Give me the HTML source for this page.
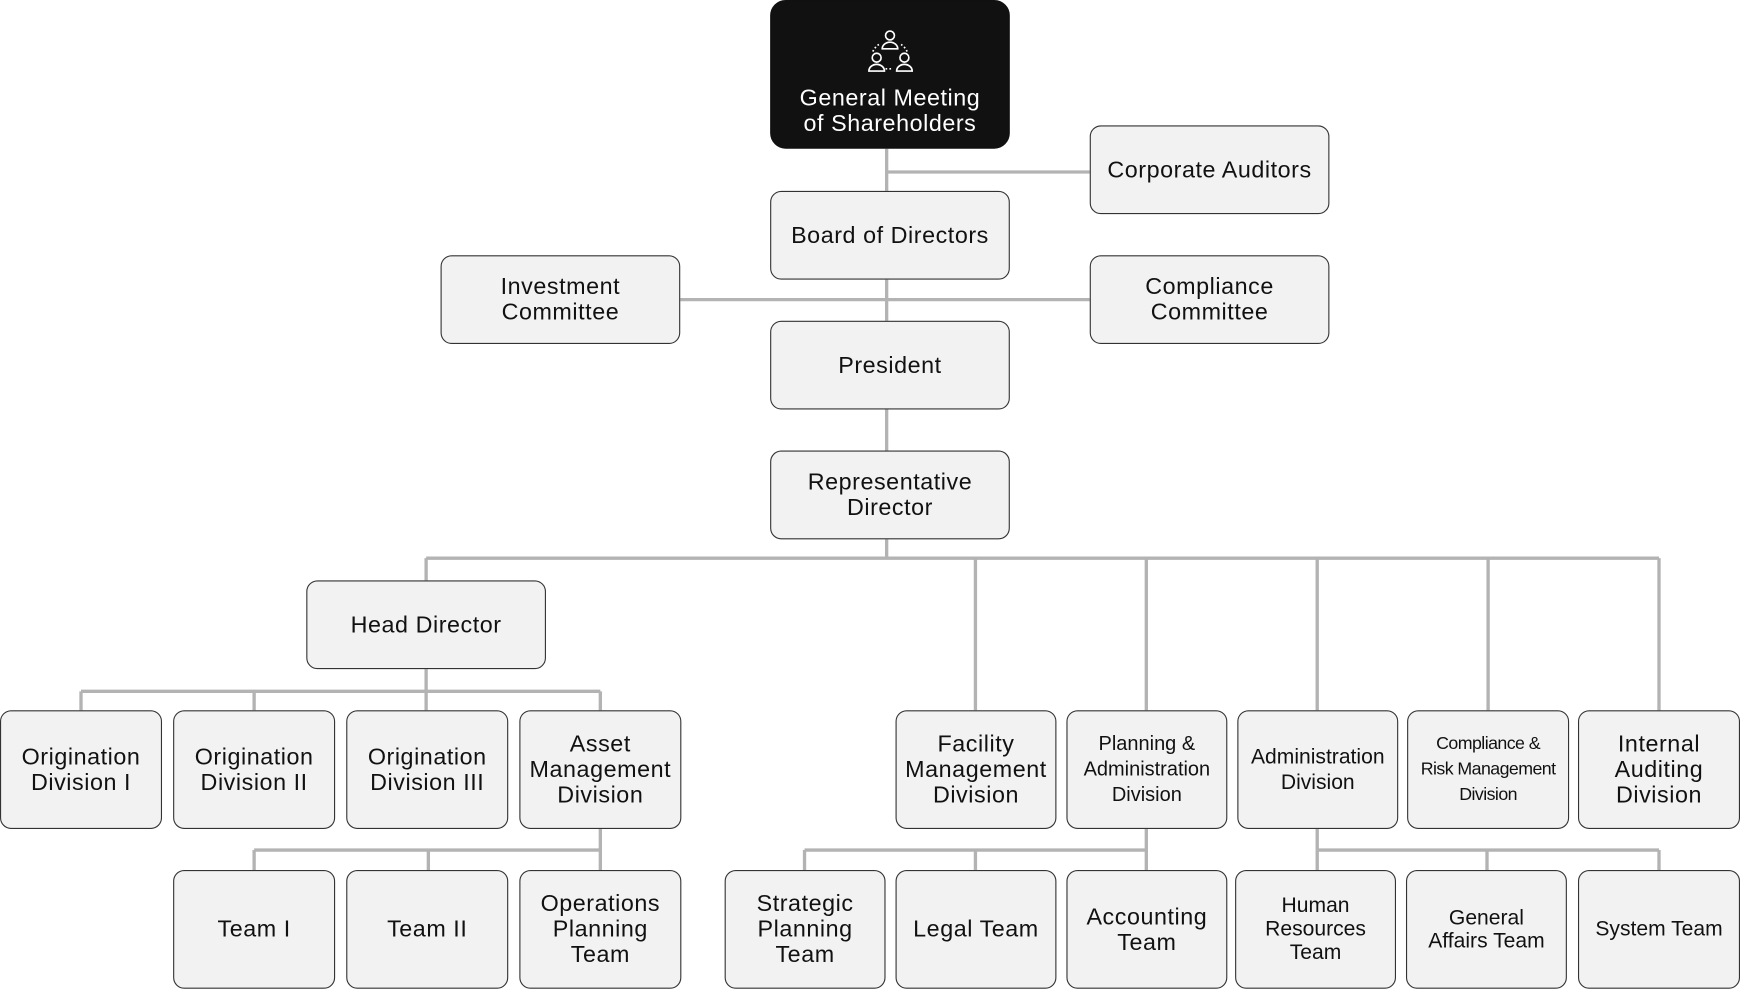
<!DOCTYPE html>
<html><head><meta charset="utf-8"><style>
html,body{margin:0;padding:0;background:#fff;width:1740px;height:990px;overflow:hidden}
#c{position:absolute;left:0;top:0;width:1568px;height:892px;transform:scale(1.1097);transform-origin:0 0}
.b{position:absolute;box-sizing:border-box;background:#f2f2f2;border:1px solid #333;border-radius:10px;display:flex;align-items:center;justify-content:center;text-align:center;font-family:"Liberation Sans",sans-serif;font-size:21px;line-height:23px;color:#111;letter-spacing:0.5px}
svg{position:absolute;left:0;top:0}
</style></head><body><div id="c">
<svg width="1568" height="892"><g stroke="#b3b3b3" stroke-width="3" fill="none">
<path d="M799 134V172M799 155H982M799 252V289M613 270H982M799 369V406M799 486V503M384 503H1495M384 503V523M879 503V640M1033 503V640M1187 503V640M1341 503V640M1495 503V640"/>
<path d="M384 603V623M73 623H541M73 623V640M229 623V640M384 623V640M541 623V640"/>
<path d="M541 747V766M229 766H541M229 766V784M386 766V784M541 766V784"/>
<path d="M1033 747V766M725 766H1033M725 766V784M879 766V784M1033 766V784"/>
<path d="M1187 747V766M1187 766H1495M1187 766V784M1340 766V784M1495 766V784"/>
</g></svg>
<div class="b" style="left:694px;top:0;width:216px;height:134px;background:#111;border-color:#111;border-radius:14px;color:#fff;align-items:flex-end;padding-bottom:10px">General Meeting<br>of Shareholders</div>
<svg width="1568" height="892" style="pointer-events:none"><g stroke="#fff" stroke-width="1.5" fill="none">
<circle cx="802" cy="32" r="4"/><path d="M795 44a7 6 0 0 1 14 0z"/>
<circle cx="790" cy="52" r="4"/><path d="M783 64a7 6 0 0 1 14 0z"/>
<circle cx="815" cy="52" r="4"/><path d="M808 64a7 6 0 0 1 14 0z"/>
<path d="M792 40a15 15 0 0 0-6 8M812 40a15 15 0 0 1 6 8M798 62h5" stroke-dasharray="1.5 2"/>
</g></svg>
<div class="b" style="left:982px;top:113px;width:216px;height:80px">Corporate Auditors</div>
<div class="b" style="left:694px;top:172px;width:216px;height:80px">Board of Directors</div>
<div class="b" style="left:397px;top:230px;width:216px;height:80px">Investment<br>Committee</div>
<div class="b" style="left:982px;top:230px;width:216px;height:80px">Compliance<br>Committee</div>
<div class="b" style="left:694px;top:289px;width:216px;height:80px">President</div>
<div class="b" style="left:694px;top:406px;width:216px;height:80px">Representative<br>Director</div>
<div class="b" style="left:276px;top:523px;width:216px;height:80px">Head Director</div>
<div class="b" style="left:0;top:640px;width:146px;height:107px">Origination<br>Division I</div>
<div class="b" style="left:156px;top:640px;width:146px;height:107px">Origination<br>Division II</div>
<div class="b" style="left:312px;top:640px;width:146px;height:107px">Origination<br>Division III</div>
<div class="b" style="left:468px;top:640px;width:146px;height:107px">Asset<br>Management<br>Division</div>
<div class="b" style="left:807px;top:640px;width:145px;height:107px">Facility<br>Management<br>Division</div>
<div class="b" style="left:961px;top:640px;width:145px;height:107px;font-size:18px;letter-spacing:0">Planning &amp;<br>Administration<br>Division</div>
<div class="b" style="left:1115px;top:640px;width:145px;height:107px;font-size:19px;letter-spacing:0">Administration<br>Division</div>
<div class="b" style="left:1268px;top:640px;width:146px;height:107px;font-size:16px;letter-spacing:-0.5px">Compliance &amp;<br>Risk Management<br>Division</div>
<div class="b" style="left:1422px;top:640px;width:146px;height:107px">Internal<br>Auditing<br>Division</div>
<div class="b" style="left:156px;top:784px;width:146px;height:107px">Team I</div>
<div class="b" style="left:312px;top:784px;width:146px;height:107px">Team II</div>
<div class="b" style="left:468px;top:784px;width:146px;height:107px">Operations<br>Planning<br>Team</div>
<div class="b" style="left:653px;top:784px;width:145px;height:107px">Strategic<br>Planning<br>Team</div>
<div class="b" style="left:807px;top:784px;width:145px;height:107px">Legal Team</div>
<div class="b" style="left:961px;top:784px;width:145px;height:107px">Accounting<br>Team</div>
<div class="b" style="left:1113px;top:784px;width:145px;height:107px;font-size:19px;line-height:21px;letter-spacing:0">Human<br>Resources<br>Team</div>
<div class="b" style="left:1267px;top:784px;width:145px;height:107px;font-size:19px;line-height:21px;letter-spacing:0">General<br>Affairs Team</div>
<div class="b" style="left:1422px;top:784px;width:146px;height:107px;font-size:19px;letter-spacing:0">System Team</div>
</div></body></html>
